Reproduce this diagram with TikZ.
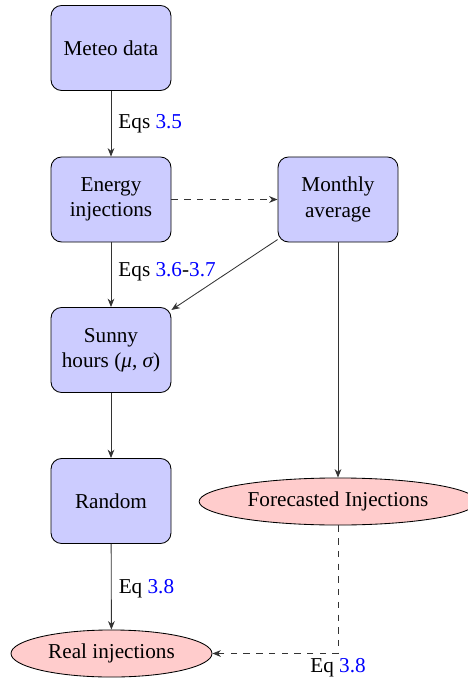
\documentclass[tikz,border=0pt]{standalone}
\usepackage{fontspec}
\setmainfont{Liberation Serif}
\usetikzlibrary{shapes.geometric,arrows.meta}
\definecolor{linkblue}{rgb}{0,0,1}
\newcommand{\eqref}[1]{\textcolor{linkblue}{#1}}
\tikzset{
  procbox/.style={draw, fill=blue!20, rounded corners=5pt, align=center,
    minimum width=56.6pt, minimum height=40.1pt, inner sep=2pt},
  resultell/.style={draw, fill=red!20, ellipse, minimum height=22.2pt, inner sep=1pt},
  flow/.style={-{Stealth[length=4pt,width=3.2pt]}, draw=black!80},
  dashflow/.style={flow, dashed},
}
\begin{document}
\begin{tikzpicture}[x=0.4717pt, y=-0.4717pt]
  \useasboundingbox (0,0) rectangle (467,684);

  % processing steps
  \node[procbox] (meteo)   at (111,48)    {Meteo data};
  \node[procbox] (energy)  at (111,199.5) {Energy\\injections};
  \node[procbox] (monthly) at (338,199.5) {Monthly\\average};
  \node[procbox] (sunny)   at (111,350)   {Sunny\\hours ({\itshape μ}, {\itshape σ})};
  \node[procbox] (random)  at (111,501)   {Random};

  % outcomes
  \node[resultell, minimum width=131pt]  (forecast) at (338,501.5) {Forecasted Injections};
  \node[resultell, minimum width=94.8pt] (real)     at (111.5,653.5) {Real injections};

  \coordinate (corner) at (338,653.5);

  % connectors
  \draw[flow] (meteo) -- node[right] {Eqs \eqref{3.5}} (energy);
  \draw[dashflow] (energy) -- (monthly);
  \draw[flow] (energy) -- node[right, pos=0.45] {Eqs \eqref{3.6}-\eqref{3.7}} (sunny);
  \draw[flow] (monthly) -- (sunny);
  \draw[flow] (sunny) -- (random);
  \draw[flow] (monthly) -- (forecast);
  \draw[flow] (random) -- node[right, pos=0.52] {Eq \eqref{3.8}} (real);
  \draw[dashflow] (forecast.south) -- (corner) -- (real.east);
  \node[below, inner sep=2pt] (eqlabel) at (corner) {Eq \eqref{3.8}};
\end{tikzpicture}
\end{document}
